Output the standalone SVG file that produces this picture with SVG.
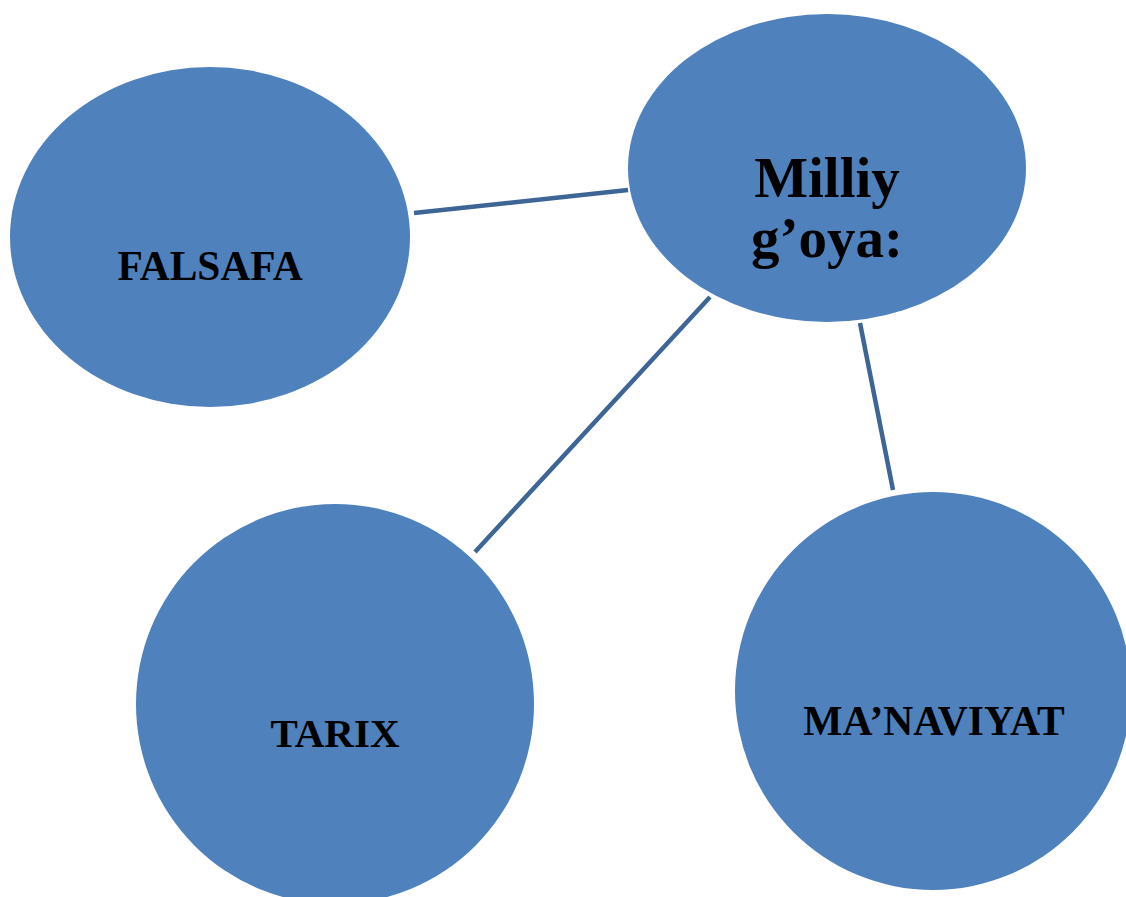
<svg xmlns="http://www.w3.org/2000/svg" width="1126" height="897" viewBox="0 0 1126 897">
<style>
.node{fill:#4f81bd;}
.lbl{font-family:"Liberation Serif","Times New Roman",serif;font-weight:bold;fill:#000;text-anchor:middle;}
.edge{stroke:#3d6596;stroke-width:4.5;fill:none;}
</style>
<rect width="1126" height="897" fill="#fff"/>
<g id="connectors">
<line class="edge" x1="414" y1="213" x2="628" y2="190"/>
<line class="edge" x1="710" y1="297" x2="475" y2="552"/>
<line class="edge" x1="860" y1="323" x2="893" y2="490"/>
</g>
<g id="falsafa">
<ellipse class="node" cx="210" cy="237" rx="200" ry="170"/>
<text class="lbl" x="210" y="280" font-size="41.5">FALSAFA</text>
</g>
<g id="milliy">
<ellipse class="node" cx="827" cy="168" rx="199" ry="154"/>
<text class="lbl" x="827" y="197" font-size="57">Milliy</text>
<text class="lbl" x="827" y="257" font-size="57">g’oya:</text>
</g>
<g id="tarix">
<ellipse class="node" cx="335" cy="704" rx="199" ry="200"/>
<text class="lbl" x="335" y="747" font-size="41">TARIX</text>
</g>
<g id="manaviyat">
<ellipse class="node" cx="933" cy="691" rx="198" ry="199"/>
<text class="lbl" x="934" y="735" font-size="41.5">MA’NAVIYAT</text>
</g>
</svg>
